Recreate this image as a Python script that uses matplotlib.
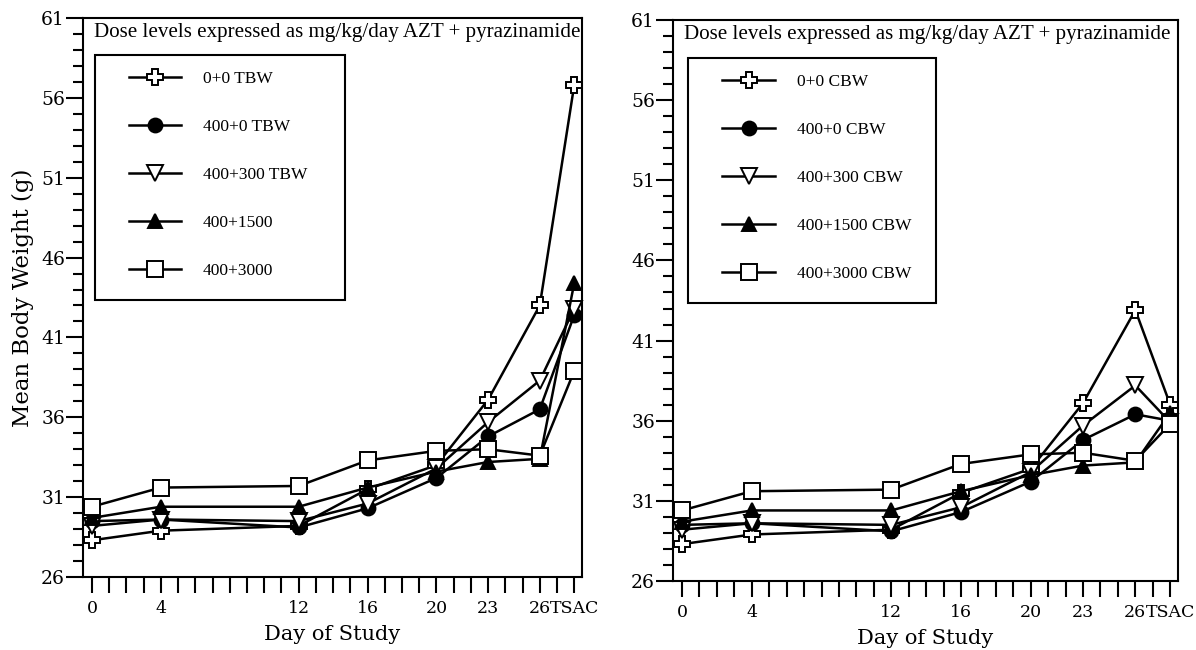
import numpy as np
import matplotlib
matplotlib.use('Agg')
from matplotlib import pyplot as plt
from matplotlib.patches import Rectangle
from matplotlib.ticker import FixedLocator

# day of study; TSAC (terminal sacrifice) is drawn at position 28
days = [0, 4, 12, 16, 20, 23, 26, 28]
tick_pos = [0, 4, 12, 16, 20, 23, 26, 28]
tick_lab = ['0', '4', '12', '16', '20', '23', '26', 'TSAC']
y_major = [26, 31, 36, 41, 46, 51, 56, 61]

# left panel: TBW
tbw_0_0 = [28.3, 28.9, 29.2, 31.5, 33.0, 37.1, 43.0, 56.8]
tbw_400_0 = [29.5, 29.6, 29.1, 30.3, 32.2, 34.8, 36.5, 42.4]
tbw_400_300 = [29.2, 29.6, 29.5, 30.6, 32.8, 35.7, 38.3, 42.8]
tbw_400_1500 = [29.7, 30.4, 30.4, 31.6, 32.6, 33.2, 33.4, 44.4]
tbw_400_3000 = [30.4, 31.6, 31.7, 33.3, 33.9, 34.0, 33.6, 38.9]

# right panel: CBW
cbw_0_0 = [28.3, 28.9, 29.2, 31.5, 33.0, 37.1, 42.9, 37.0]
cbw_400_0 = [29.5, 29.6, 29.1, 30.3, 32.2, 34.8, 36.4, 36.0]
cbw_400_300 = [29.2, 29.6, 29.5, 30.6, 32.8, 35.7, 38.2, 35.9]
cbw_400_1500 = [29.7, 30.4, 30.4, 31.6, 32.6, 33.2, 33.4, 36.5]
cbw_400_3000 = [30.4, 31.6, 31.7, 33.3, 33.9, 34.0, 33.5, 35.8]

tbw_names = ['0+0 TBW', '400+0 TBW', '400+300 TBW', '400+1500', '400+3000']
cbw_names = ['0+0 CBW', '400+0 CBW', '400+300 CBW', '400+1500 CBW', '400+3000 CBW']

markers = ['P', 'o', 'v', '^', 's']
faces = ['white', 'black', 'white', 'black', 'white']
sizes = [11, 10, 11, 10, 11]

serif = ['DejaVu Serif']
txt_font = ['Liberation Serif']

fig = plt.figure(figsize=(11.96, 6.5), dpi=100)
ax1 = fig.add_axes([0.0694, 0.1123, 0.4172, 0.8600])
ax2 = fig.add_axes([0.5627, 0.1062, 0.4223, 0.8630])


def draw_panel(ax, series, names, frame):
    for vals, name, m, fc, ms in zip(series, names, markers, faces, sizes):
        ax.plot(days, vals, color='black', lw=1.8, marker=m, ms=ms,
                mfc=fc, mec='black', mew=1.4, label=name, clip_on=False)
    ax.set_xlim(-0.52, 28.45)
    ax.set_ylim(26, 61)
    ax.yaxis.set_major_locator(FixedLocator(y_major))
    ax.yaxis.set_minor_locator(FixedLocator(list(range(26, 62))))
    ax.xaxis.set_major_locator(FixedLocator(list(range(0, 29))))
    ax.set_xticklabels([tick_lab[tick_pos.index(d)] if d in tick_pos else ''
                        for d in range(0, 29)])
    ax.tick_params(axis='x', which='major', direction='out', length=11.5,
                   width=1.5, pad=5, labelsize=12.5)
    ax.tick_params(axis='y', which='major', direction='out', length=12,
                   width=1.5, pad=1, labelsize=13.5)
    ax.tick_params(axis='y', which='minor', direction='out', length=7,
                   width=1.5)
    for lab in ax.get_xticklabels() + ax.get_yticklabels():
        lab.set_family(serif)
    for sp in ax.spines.values():
        sp.set_linewidth(1.5)
    ax.set_xlabel('Day of Study', family=serif, fontsize=15, labelpad=6)
    ax.text(0.022, 0.974, 'Dose levels expressed as mg/kg/day AZT + pyrazinamide',
            transform=ax.transAxes, ha='left', va='center', fontsize=15.1,
            family=txt_font)
    ax.legend(loc='upper left', bbox_to_anchor=(frame[0] + 0.068, frame[1] - 0.028),
              frameon=False, handlelength=3.0, handletextpad=1.27,
              labelspacing=1.84, borderpad=0, borderaxespad=0, numpoints=1,
              prop={'family': txt_font, 'size': 12.5})
    ax.add_patch(Rectangle((frame[0], frame[2]), frame[3] - frame[0], frame[1] - frame[2],
                           transform=ax.transAxes, fill=False, lw=1.5,
                           ec='black', zorder=5))


draw_panel(ax1, [tbw_0_0, tbw_400_0, tbw_400_300, tbw_400_1500, tbw_400_3000],
           tbw_names, (0.024, 0.934, 0.4955, 0.525))
draw_panel(ax2, [cbw_0_0, cbw_400_0, cbw_400_300, cbw_400_1500, cbw_400_3000],
           cbw_names, (0.030, 0.932, 0.4955, 0.521))

ax1.set_ylabel('Mean Body Weight (g)', family=serif, fontsize=16.5, labelpad=5)

fig.savefig('out.png', dpi=100)
